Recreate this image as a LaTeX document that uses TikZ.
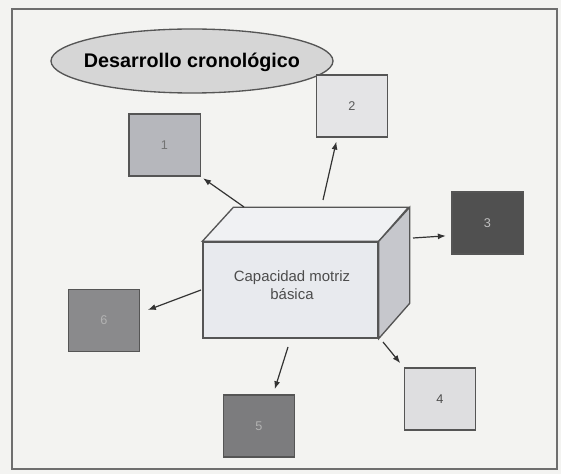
\documentclass[tikz,border=0pt]{standalone}
\usepackage{fontspec}
\setmainfont{Liberation Sans}
\usetikzlibrary{arrows.meta}

\definecolor{paper}{RGB}{243,243,241}
\definecolor{frameline}{RGB}{110,110,110}
\definecolor{edgegray}{RGB}{85,85,85}

\tikzset{every picture/.style={line width=0.75pt}}
\tikzset{
  digitbox/.style={draw=edgegray, line width=1pt, minimum width=53.5pt, minimum height=46.5pt, inner sep=0pt, font=\fontsize{9.5}{11}\selectfont},
  link/.style={draw=black!80, line width=0.9pt, -{Latex[length=6pt,width=4.5pt]}},
}

\begin{document}
\begin{tikzpicture}[x=0.75pt,y=0.75pt,yscale=-1,xscale=1]
%set diagram size: 561 x 474
\fill[paper] (0,0) rectangle (561,474);
\path[use as bounding box] (0,0) rectangle (561,474);

%Frame
\draw[frameline, line width=1.2pt] (12,9) rectangle (557,469);

%Ellipse
\draw[edgegray, fill={rgb,255:red,214; green,214; blue,214}, line width=1pt] (192,61) ellipse (141 and 32);
% Text Node
\node (title) at (192,62) {\bfseries\fontsize{14.8}{17}\selectfont Desarrollo cronológico};

%Cuboid
\node[draw=edgegray, line width=1pt, fill={rgb,255:red,232; green,234; blue,238}, minimum width=131.25pt, minimum height=72pt, inner sep=0pt] (front) at (290.5,290) {};
\draw[edgegray, line width=1pt, fill={rgb,255:red,240; green,241; blue,243}] (front.north west) -- ++(31,-34) -- ++(175,0) -- (front.north east) -- cycle;
\draw[edgegray, line width=1pt, fill={rgb,255:red,198; green,199; blue,204}] (front.north east) -- ++(31,-34) -- ++(0,96) -- (front.south east) -- cycle;
% Text Node
\node[align=center, text=black!70, font=\fontsize{11.2}{13.5}\selectfont] (motriz) at (292,285) {Capacidad motriz\\básica};

%Boxes
\node[digitbox, fill={rgb,255:red,182; green,183; blue,188}, text=black!55] (b1) at (164.5,145) {1};
\node[digitbox, fill={rgb,255:red,228; green,228; blue,230}, text=black!65] (b2) at (352,106) {2};
\node[digitbox, fill={rgb,255:red,80; green,80; blue,80}, text=black!25] (b3) at (487.5,223) {3};
\node[digitbox, fill={rgb,255:red,222; green,222; blue,224}, text=black!70] (b4) at (440,399) {4};
\node[digitbox, fill={rgb,255:red,124; green,124; blue,126}, text=black!30] (b5) at (259,426) {5};
\node[digitbox, fill={rgb,255:red,138; green,138; blue,140}, text=black!30] (b6) at (104,320.5) {6};

%Straight Lines
\coordinate (s1) at (244,207);
\coordinate (s2) at (323,200);
\coordinate (s3) at (413,238);
\coordinate (s4) at (383,342);
\coordinate (s5) at (288,347);
\coordinate (s6) at (201,290);
\draw[link, shorten >=2pt] (s1) -- (b1.south east);
\draw[link, shorten >=3pt] (s2) -- (b2.245);
\draw[link, shorten >=4pt] (s3) -- (b3.199);
\draw[link, shorten >=4pt] (s4) -- (b4.north west);
\draw[link, shorten >=4pt] (s5) -- (b5.66);
\draw[link, shorten >=6pt] (s6) -- (b6.12);

\end{tikzpicture}
\end{document}
